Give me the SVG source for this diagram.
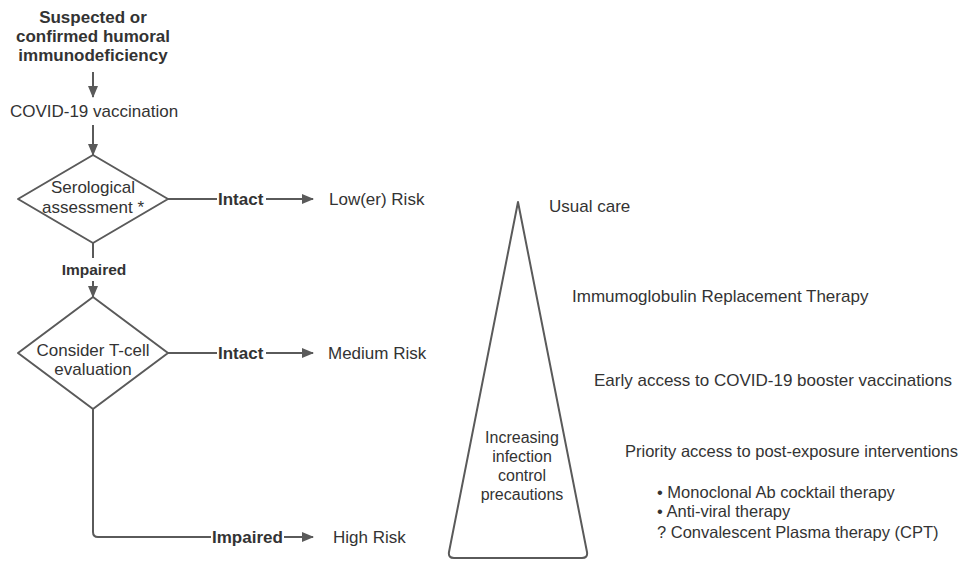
<svg xmlns="http://www.w3.org/2000/svg" width="973" height="563" viewBox="0 0 973 563">
<defs>
<style>
text{font-family:"Liberation Sans",Arial,sans-serif;font-size:17px;fill:#333}
.b{font-weight:bold}
.c{text-anchor:middle}
.m{font-size:16.5px}
.t{font-size:16px}
.sm{font-size:15.5px}
.s{fill:none;stroke:#5a5a5a;stroke-width:2}
</style>
<marker id="ah" markerWidth="12" markerHeight="10" refX="11" refY="5" orient="auto" markerUnits="userSpaceOnUse">
<path d="M0,0 L12,5 L0,10 Z" fill="#5a5a5a"/>
</marker>
</defs>
<rect width="973" height="563" fill="#fff"/>
<g id="connectors">
<path class="s" d="M93,72 V97" marker-end="url(#ah)"/>
<path class="s" d="M93,125 V155" marker-end="url(#ah)"/>
<path class="s" d="M168,199 H217"/>
<path class="s" d="M266,199 H313" marker-end="url(#ah)"/>
<path class="s" d="M93,243 V258"/>
<path class="s" d="M93,281 V297" marker-end="url(#ah)"/>
<path class="s" d="M168,353 H217"/>
<path class="s" d="M266,353 H313" marker-end="url(#ah)"/>
<path class="s" d="M93,409 V532 Q93,537 98,537 H211"/>
<path class="s" d="M284,537 H313" marker-end="url(#ah)"/>
<text class="b" x="218" y="205">Intact</text>
<text class="b c sm" x="94" y="275">Impaired</text>
<text class="b" x="218" y="359">Intact</text>
<text class="b" x="212" y="543">Impaired</text>
</g>
<g id="start">
<text class="b c" x="93" y="23">Suspected or</text>
<text class="b c" x="93" y="42">confirmed humoral</text>
<text class="b c" x="93" y="61">immunodeficiency</text>
</g>
<g id="vaccination">
<text class="c" x="94" y="117">COVID-19 vaccination</text>
</g>
<g id="serological">
<path class="s" d="M93,155 L168,199 L93,243 L18,199 Z" stroke-linejoin="round"/>
<text class="c" x="93" y="193">Serological</text>
<text class="c" x="93" y="213">assessment *</text>
</g>
<g id="tcell">
<path class="s" d="M93,297 L168,353 L93,409 L18,353 Z" stroke-linejoin="round"/>
<text class="c" x="93" y="356">Consider T-cell</text>
<text class="c" x="93" y="375">evaluation</text>
</g>
<g id="low"><text x="329" y="205">Low(er) Risk</text></g>
<g id="medium"><text x="328" y="359">Medium Risk</text></g>
<g id="high"><text x="333" y="543">High Risk</text></g>
<g id="triangle">
<path class="s" d="M518,202 L587,552 Q588,558 582,558 L454,558 Q448,558 449,552 Z" stroke-linejoin="round"/>
<text class="c t" x="522" y="443">Increasing</text>
<text class="c t" x="522" y="462">infection</text>
<text class="c t" x="522" y="481">control</text>
<text class="c t" x="522" y="500">precautions</text>
</g>
<g id="interventions">
<text x="549" y="212">Usual care</text>
<text x="572" y="302">Immumoglobulin Replacement Therapy</text>
<text x="594" y="386">Early access to COVID-19 booster vaccinations</text>
<text class="m" x="625" y="457">Priority access to post-exposure interventions</text>
<text class="m" x="657" y="498">• Monoclonal Ab cocktail therapy</text>
<text class="m" x="657" y="517">• Anti-viral therapy</text>
<text class="m" x="657" y="538">? Convalescent Plasma therapy (CPT)</text>
</g>
</svg>
